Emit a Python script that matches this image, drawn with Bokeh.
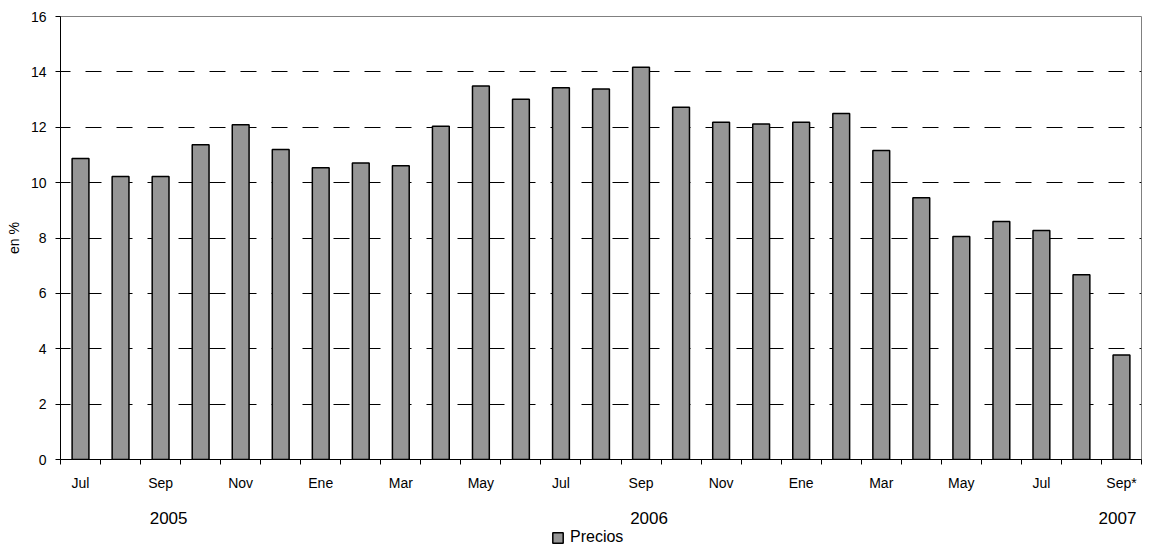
from bokeh.plotting import figure
from bokeh.models import (Range1d, FixedTicker, LinearAxis, Legend, LegendItem)
from bokeh.layouts import column
from bokeh.embed import file_html
from bokeh.resources import INLINE

# ---- data ----
months = ["Jul", "Ago", "Sep", "Oct", "Nov", "Dic",
          "Ene", "Feb", "Mar", "Abr", "May", "Jun", "Jul", "Ago", "Sep", "Oct", "Nov", "Dic",
          "Ene", "Feb", "Mar", "Abr", "May", "Jun", "Jul", "Ago", "Sep*"]
precios = [10.87, 10.22, 10.22, 11.37, 12.09, 11.20,
           10.54, 10.71, 10.61, 12.04, 13.49, 13.01, 13.43, 13.38, 14.17, 12.72, 12.18, 12.12,
           12.18, 12.50, 11.16, 9.45, 8.05, 8.60, 8.27, 6.67, 3.77]
years = ["2005", "2006", "2007"]
year_pos = [2.7, 14.7, 26.4]
y_ticks = [0, 2, 4, 6, 8, 10, 12, 14, 16]
series_name = "Precios"

n = len(months)
centers = [i + 0.5 for i in range(n)]
boundaries = list(range(n + 1))

FONT = "Liberation Sans"
BAR_STYLE = dict(fill_color="#969696", line_color="black", line_width=1.5)

p = figure(width=1146, height=529, output_backend="svg", toolbar_location=None,
           x_range=Range1d(0, n), y_range=Range1d(0, 16),
           min_border_left=60, min_border_right=5, min_border_top=16, min_border_bottom=70)
p.background_fill_color = "white"
p.border_fill_color = "white"
p.outline_line_color = "#808080"
p.outline_line_width = 1

r = p.vbar(x=centers, top=precios, width=0.42, **BAR_STYLE)

# y axis
ya = p.yaxis[0]
ya.ticker = FixedTicker(ticks=y_ticks)
ya.minor_tick_line_color = None
ya.major_tick_in = 0
ya.major_tick_out = 5
ya.major_tick_line_color = "black"
ya.axis_line_color = "black"
ya.major_label_text_font = FONT
ya.major_label_text_font_size = "14px"
ya.major_label_text_color = "black"
ya.major_label_standoff = 9
ya.axis_label = "en %"
ya.axis_label_text_font = FONT
ya.axis_label_text_font_size = "14px"
ya.axis_label_text_font_style = "normal"
ya.axis_label_text_color = "black"
ya.axis_label_standoff = 6

# x axis (months)
xa = p.xaxis[0]
xa.ticker = FixedTicker(ticks=centers, minor_ticks=boundaries)
xa.major_label_overrides = {c: (m if i % 2 == 0 else "") for i, (c, m) in enumerate(zip(centers, months))}
xa.major_tick_in = 0
xa.major_tick_out = 0
xa.minor_tick_in = 0
xa.minor_tick_out = 5
xa.minor_tick_line_color = "black"
xa.axis_line_color = "black"
xa.major_label_text_font = FONT
xa.major_label_text_font_size = "14px"
xa.major_label_text_color = "black"
xa.major_label_standoff = 10

# year axis
ya2 = LinearAxis(ticker=FixedTicker(ticks=year_pos, minor_ticks=[]),
                 major_label_overrides={pos: y for pos, y in zip(year_pos, years)})
ya2.axis_line_color = None
ya2.major_tick_line_color = None
ya2.minor_tick_line_color = None
ya2.major_tick_in = 0
ya2.major_tick_out = 0
ya2.major_label_text_font = FONT
ya2.major_label_text_font_size = "17px"
ya2.major_label_text_color = "black"
ya2.major_label_standoff = 18
p.add_layout(ya2, "below")

# grid
p.xgrid.grid_line_color = None
p.ygrid.ticker = FixedTicker(ticks=y_ticks)
p.ygrid.grid_line_color = "black"
p.ygrid.grid_line_width = 1
p.ygrid.grid_line_dash = "16 15"
p.ygrid.grid_line_dash_offset = 6

# legend strip (separate small figure holding only the legend)
p2 = figure(width=1146, height=20, output_backend="svg", toolbar_location=None,
            x_axis_type=None, y_axis_type=None,
            x_range=Range1d(0, 1), y_range=Range1d(0, 1),
            min_border_left=0, min_border_right=0, min_border_top=0, min_border_bottom=0)
p2.outline_line_color = None
p2.xgrid.grid_line_color = None
p2.ygrid.grid_line_color = None
p2.background_fill_alpha = 0
p2.border_fill_alpha = 0
# hidden swatch renderer; only its legend glyph is shown
r2 = p2.vbar(x=[0.5], top=[1], width=0.42, visible=False, **BAR_STYLE)
legend = Legend(items=[LegendItem(label=series_name, renderers=[r2], index=0)],
                orientation="horizontal", location=(491, 3),
                border_line_color=None, background_fill_alpha=0,
                margin=0, padding=0, spacing=0,
                glyph_width=13, glyph_height=13, label_height=14,
                label_standoff=6,
                label_text_font=FONT, label_text_font_size="16px", label_text_color="black")
p2.add_layout(legend)

layout = column(p, p2, spacing=0)
open("out.html", "w").write(file_html(layout, INLINE))
